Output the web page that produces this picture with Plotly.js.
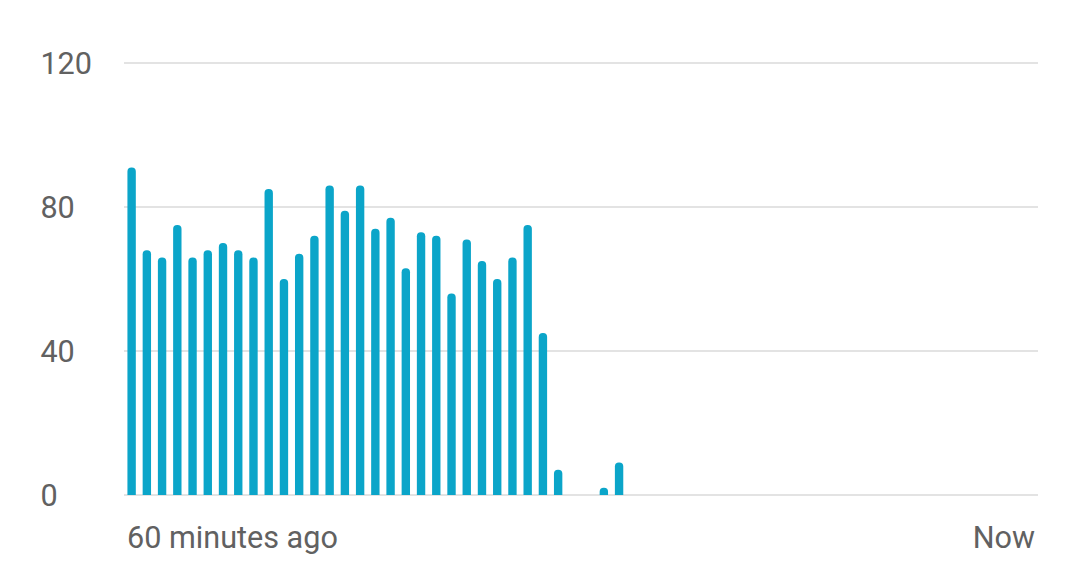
<!DOCTYPE html>
<html>
<head>
<meta charset="utf-8">
<script src="https://cdn.plot.ly/plotly-3.0.1.min.js"></script>
<style>
html,body{margin:0;padding:0;background:#fff;}
#chart{width:1080px;height:561px;}
</style>
</head>
<body>
<div id="chart"></div>
<script>
// Requests per minute over the last 60 minutes (oldest first)
const counts = [91, 68, 66, 75, 66, 68, 70, 68, 66, 85,
                60, 67, 72, 86, 79, 86, 74, 77, 63, 73,
                72, 56, 71, 65, 60, 66, 75, 45, 7, 0,
                0, 2, 9, 0, 0, 0, 0, 0, 0, 0,
                0, 0, 0, 0, 0, 0, 0, 0, 0, 0,
                0, 0, 0, 0, 0, 0, 0, 0, 0, 0];
const minuteSlots = counts.map((_, i) => i + 1);
const yTickVals = [0, 40, 80, 120];
const yTickText = ["0\u2007\u2007", "40\u2007", "80\u2007", "120"];
const startLabel = ["60 minutes ago"];
const endLabel = ["Now"];

const labelFont = {family: "Roboto, sans-serif", size: 30.6, color: "#616161"};

const trace = {
  type: "bar",
  x: minuteSlots,
  y: counts,
  marker: {color: "#0ba5c9", cornerradius: 4, line: {width: 0}},
  hoverinfo: "x+y"
};
// empty trace only so that the second x axis (right-hand label) is drawn
const axisHolder = {type: "scatter", x: [], y: [], xaxis: "x2", yaxis: "y", hoverinfo: "skip", showlegend: false};

const layout = {
  width: 1080, height: 561,
  margin: {l: 124, r: 42, t: 62, b: 66, pad: 0},
  paper_bgcolor: "#ffffff",
  plot_bgcolor: "#ffffff",
  bargap: 0.45,
  showlegend: false,
  font: labelFont,
  xaxis: {
    range: [0.5, 60.5],
    tickmode: "array",
    tickvals: [0.5],
    ticktext: startLabel,
    ticklabelposition: "outside right",
    ticklabelshift: 3,
    ticklabelstandoff: 21,
    ticks: "",
    showgrid: false,
    zeroline: false,
    showline: false,
    tickfont: labelFont,
    fixedrange: true
  },
  xaxis2: {
    overlaying: "x",
    anchor: "y",
    side: "bottom",
    range: [0.5, 60.5],
    tickmode: "array",
    tickvals: [60.5],
    ticktext: endLabel,
    ticklabelposition: "outside left",
    ticklabelshift: -3,
    ticklabelstandoff: 21,
    ticks: "",
    showgrid: false,
    zeroline: false,
    showline: false,
    tickfont: labelFont,
    fixedrange: true
  },
  yaxis: {
    range: [0, 120.3],
    tickmode: "array",
    tickvals: yTickVals,
    ticktext: yTickText,
    ticks: "",
    ticklabelstandoff: 31,
    showgrid: true,
    gridcolor: "#e3e3e3",
    gridwidth: 2,
    zeroline: true,
    zerolinecolor: "#e3e3e3",
    zerolinewidth: 2,
    showline: false,
    tickfont: labelFont,
    fixedrange: true
  }
};

Plotly.newPlot("chart", [trace, axisHolder], layout, {displayModeBar: false, staticPlot: true});
</script>
</body>
</html>
